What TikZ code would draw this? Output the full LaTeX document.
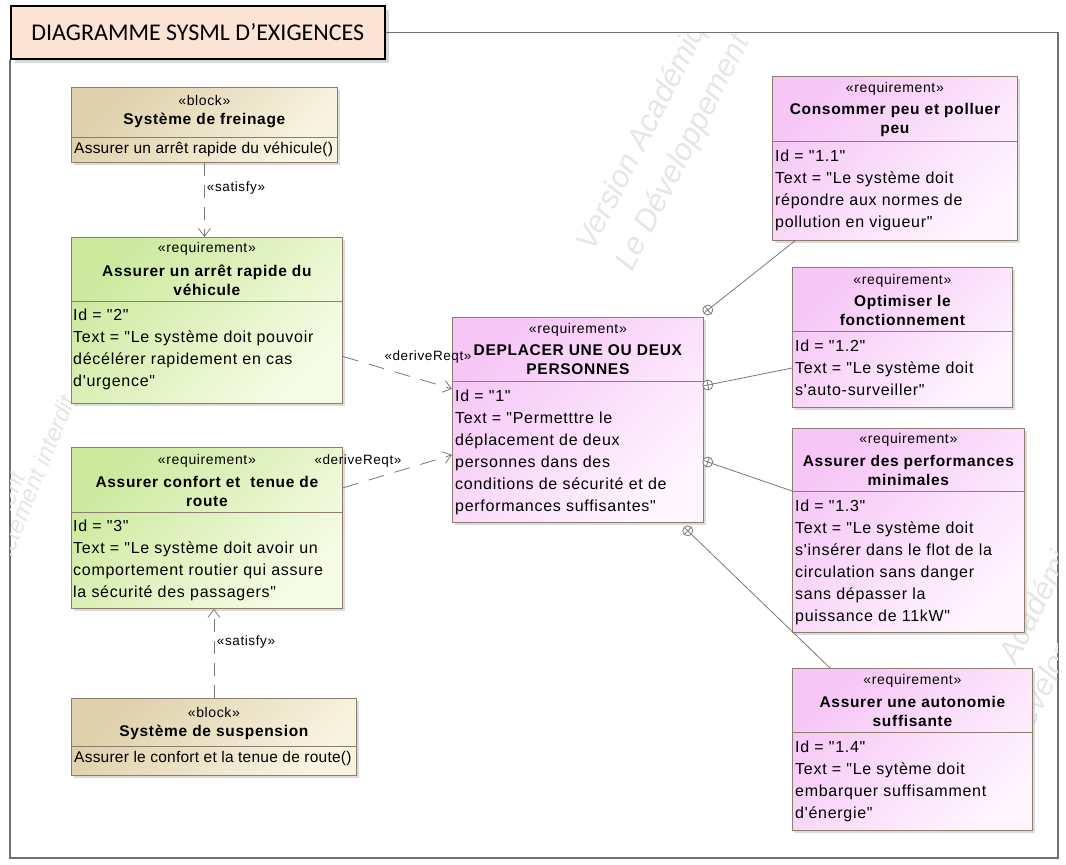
\documentclass[tikz,border=0pt]{standalone}
\usepackage{fontspec}
\usepackage{tikz}
\usetikzlibrary{arrows.meta,calc,shadows}
\setmainfont{Liberation Sans}[Ligatures=TeXOff]
\newfontfamily\umlfont{Liberation Sans}[LetterSpace=4.5, Ligatures=TeXOff]
\newfontfamily\opfont{Liberation Sans}[LetterSpace=1.5, Ligatures=TeXOff]
\newfontfamily\tabfont{Carlito}
\definecolor{framegray}{RGB}{112,112,112}
\definecolor{boxborder}{RGB}{140,125,110}
\definecolor{tabfill}{RGB}{252,228,212}
\definecolor{blocktop}{RGB}{222,208,170}
\definecolor{blockbot}{RGB}{249,244,226}
\definecolor{greentop}{RGB}{204,233,158}
\definecolor{greenbot}{RGB}{247,252,230}
\definecolor{pinktop}{RGB}{246,198,246}
\definecolor{pinkbot}{RGB}{255,245,255}
\definecolor{linkgray}{RGB}{120,120,120}
\definecolor{marktext}{RGB}{230,230,230}

\begin{document}
\begin{tikzpicture}[x=1pt, y=-1pt,
    tab/.style={rectangle, draw=black, line width=1.6pt, fill=tabfill, anchor=north west, minimum width=374pt, minimum height=53pt, font=\tabfont\fontsize{24}{26}\selectfont, drop shadow={shadow xshift=4pt, shadow yshift=-4pt, fill=black!30}},
    frame/.style={draw=framegray, line width=1.2pt},
    umlbox/.style={rectangle, draw=boxborder, line width=0.8pt, anchor=north west, inner sep=0pt, drop shadow={shadow xshift=3pt, shadow yshift=-3pt, fill=black!28}},
    blockbox/.style={umlbox, top color=blocktop, bottom color=blockbot, shading angle=45},
    greenbox/.style={umlbox, top color=greentop, bottom color=greenbot, shading angle=45},
    pinkbox/.style={umlbox, top color=pinktop, bottom color=pinkbot, shading angle=45},
    sepline/.style={draw=boxborder, line width=0.8pt},
    stereo/.style={font=\umlfont\fontsize{14}{16}\selectfont, inner sep=0pt},
    boxtitle/.style={font=\umlfont\bfseries\fontsize{15.5}{19}\selectfont, align=center, inner sep=0pt},
    boxbody/.style={font=\umlfont\fontsize{16}{22}\selectfont, align=left, anchor=north west, inner sep=0pt},
    operation/.style={font=\opfont\fontsize{15.5}{18}\selectfont, anchor=west, inner sep=0pt},
    linklabel/.style={font=\umlfont\fontsize{13.5}{15}\selectfont, inner sep=0pt},
    satisfy/.style={draw=linkgray, line width=0.8pt, dash pattern=on 13pt off 9pt, -{Straight Barb[length=8pt, width=12pt]}},
    derive/.style={satisfy, dash pattern=on 16pt off 11pt},
    contain/.style={draw=linkgray, line width=0.8pt},
    containmark/.style={circle, draw=linkgray, line width=0.8pt, fill=white, minimum size=10pt, inner sep=0pt},
    watermark/.style={text=marktext, font=\itshape\fontsize{31}{31}\selectfont, rotate=#1, inner sep=0pt},
    watermark/.default=63
  ]
  \useasboundingbox (0,0) rectangle (1066,865);

  % Title tab and frame
  \node[tab] (title) at (10,5) {DIAGRAMME SYSML D’EXIGENCES};
  \draw[frame] (title.east) -| (1058,858) -| (title.south west);

  % Watermark
  \begin{scope}
    \clip (10,33) rectangle (1057,857);
    \node[watermark, anchor=base west] (wm1) at (593,253) {Version Académique};
    \node[watermark, anchor=base west] (wm2) at (632,273) {Le Développement};
    \node[watermark=68, anchor=base east, font=\itshape\fontsize{24}{24}\selectfont] (wm3) at (26,476) {Le Développement};
    \node[watermark=68, anchor=base east, font=\itshape\fontsize{24}{24}\selectfont] (wm4) at (76,400) {strictement interdit};
    \node[watermark, anchor=base west] (wm5) at (965,766) {Version Académique};
    \node[watermark, anchor=base west] (wm6) at (1004,786) {Le Développement};
  \end{scope}

  % Block: Systeme de freinage
  \node[blockbox, minimum width=266pt, minimum height=75pt] (bf) at (71,87) {};
  \node[stereo] (bfs) at (bf.north |- 0,100) {«block»};
  \node[boxtitle] (bft) at (bf.north |- 0,120) {Système de freinage};
  \draw[sepline] (bf.west |- 0,137) -- (bf.east |- 0,137);
  \node[operation] (bfo) at (74,149) {Assurer un arrêt rapide du véhicule()};

  % Requirement 2
  \node[greenbox, minimum width=271pt, minimum height=166pt] (r2) at (71,237) {};
  \node[stereo] (r2s) at (r2.north |- 0,249) {«requirement»};
  \node[boxtitle] (r2t) at (r2.north |- 0,280) {Assurer un arrêt rapide du\\véhicule};
  \draw[sepline] (r2.west |- 0,301) -- (r2.east |- 0,301);
  \node[boxbody] (r2b) at (73,309) {Id = "2"\\Text = "Le système doit pouvoir\\décélérer rapidement en cas\\d'urgence"};

  % Requirement 3
  \node[greenbox, minimum width=271pt, minimum height=161pt] (r3) at (71,447) {};
  \node[stereo] (r3s) at (r3.north |- 0,461) {«requirement»};
  \node[boxtitle] (r3t) at (r3.north |- 0,491) {Assurer confort et\ \ tenue de\\route};
  \draw[sepline] (r3.west |- 0,512) -- (r3.east |- 0,512);
  \node[boxbody] (r3b) at (73,520) {Id = "3"\\Text = "Le système doit avoir un\\comportement routier qui assure\\la sécurité des passagers"};

  % Block: Systeme de suspension
  \node[blockbox, minimum width=285pt, minimum height=77pt] (bs) at (71,698) {};
  \node[stereo] (bss) at (bs.north |- 0,712) {«block»};
  \node[boxtitle] (bst) at (bs.north |- 0,732) {Système de suspension};
  \draw[sepline] (bs.west |- 0,746) -- (bs.east |- 0,746);
  \node[operation] (bso) at (74,758) {Assurer le confort et la tenue de route()};

  % Requirement 1
  \node[pinkbox, minimum width=251pt, minimum height=205pt] (r1) at (452,317) {};
  \node[stereo] (r1s) at (r1.north |- 0,330) {«requirement»};
  \node[boxtitle] (r1t) at (r1.north |- 0,360) {DEPLACER UNE OU DEUX\\PERSONNES};
  \draw[sepline] (r1.west |- 0,381) -- (r1.east |- 0,381);
  \node[boxbody] (r1b) at (455,390) {Id = "1"\\Text = "Permetttre le\\déplacement de deux\\personnes dans des\\conditions de sécurité et de\\performances suffisantes"};

  % Requirement 1.1
  \node[pinkbox, minimum width=245pt, minimum height=164pt] (r11) at (772,76) {};
  \node[stereo] (r11s) at (r11.north |- 0,89) {«requirement»};
  \node[boxtitle] (r11t) at (r11.north |- 0,120) {Consommer peu et polluer\\peu};
  \draw[sepline] (r11.west |- 0,141) -- (r11.east |- 0,141);
  \node[boxbody] (r11b) at (775,150) {Id = "1.1"\\Text = "Le système doit\\répondre aux normes de\\pollution en vigueur"};

  % Requirement 1.2
  \node[pinkbox, minimum width=220pt, minimum height=140pt] (r12) at (792,267) {};
  \node[stereo] (r12s) at (r12.north |- 0,281) {«requirement»};
  \node[boxtitle] (r12t) at (r12.north |- 0,310) {Optimiser le\\fonctionnement};
  \draw[sepline] (r12.west |- 0,331) -- (r12.east |- 0,331);
  \node[boxbody] (r12b) at (795,340) {Id = "1.2"\\Text = "Le système doit\\s'auto-surveiller"};

  % Requirement 1.3
  \node[pinkbox, minimum width=232pt, minimum height=204pt] (r13) at (792,428) {};
  \node[stereo] (r13s) at (r13.north |- 0,440) {«requirement»};
  \node[boxtitle] (r13t) at (r13.north |- 0,470) {Assurer des performances\\minimales};
  \draw[sepline] (r13.west |- 0,491) -- (r13.east |- 0,491);
  \node[boxbody] (r13b) at (795,500) {Id = "1.3"\\Text = "Le système doit\\s'insérer dans le flot de la\\circulation sans danger\\sans dépasser la\\puissance de 11kW"};

  % Requirement 1.4
  \node[pinkbox, minimum width=240pt, minimum height=162pt] (r14) at (792,668) {};
  \node[stereo] (r14s) at (r14.north |- 0,681) {«requirement»};
  \node[boxtitle] (r14t) at (r14.north |- 0,711) {Assurer une autonomie\\suffisante};
  \draw[sepline] (r14.west |- 0,732) -- (r14.east |- 0,732);
  \node[boxbody] (r14b) at (795,741) {Id = "1.4"\\Text = "Le sytème doit\\embarquer suffisamment\\d'énergie"};

  % Satisfy links
  \draw[satisfy] (bf.south) -- (bf.south |- r2.north);
  \draw[satisfy] (bs.north) -- (bs.north |- r3.south);
  \node[linklabel] (sat1) at (236,188) {«satisfy»};
  \node[linklabel] (sat2) at (246,642) {«satisfy»};

  % DeriveReqt links
  \draw[derive] ($(r2.east)+(0,36)$) -- ($(r1.west)+(0,-31)$);
  \draw[derive] ($(r3.east)+(0,-40)$) -- ($(r1.west)+(0,35)$);
  \node[linklabel] (der1) at (428,357) {«deriveReqt»};
  \node[linklabel] (der2) at (358,461) {«deriveReqt»};

  % Containment links
  \node[containmark] (m11) at ($(r1.north east)+(4,-7)$) {};
  \node[containmark] (m12) at ($(r1.north east)+(4,68)$) {};
  \node[containmark] (m13) at ($(r1.north east)+(4,145)$) {};
  \node[containmark] (m14) at ($(r1.south east)+(-16,8)$) {};
  \coordinate (t11) at ($(r11.south west)+(23,0)$);
  \coordinate (t12) at ($(r12.north west)+(0,101)$);
  \coordinate (t13) at ($(r13.north west)+(0,63)$);
  \coordinate (t14) at ($(r14.north west)+(38,0)$);
  \foreach \m/\t in {m11/t11, m12/t12, m13/t13, m14/t14} {
    \draw[contain] (\m) -- (\t);
    \draw[contain] ($(\m.center)!5pt!90:(\t)$) -- ($(\m.center)!5pt!-90:(\t)$);
    \draw[contain] ($(\m.center)!-5pt!(\t)$) -- ($(\m.center)!5pt!(\t)$);
  }

\end{tikzpicture}
\end{document}
